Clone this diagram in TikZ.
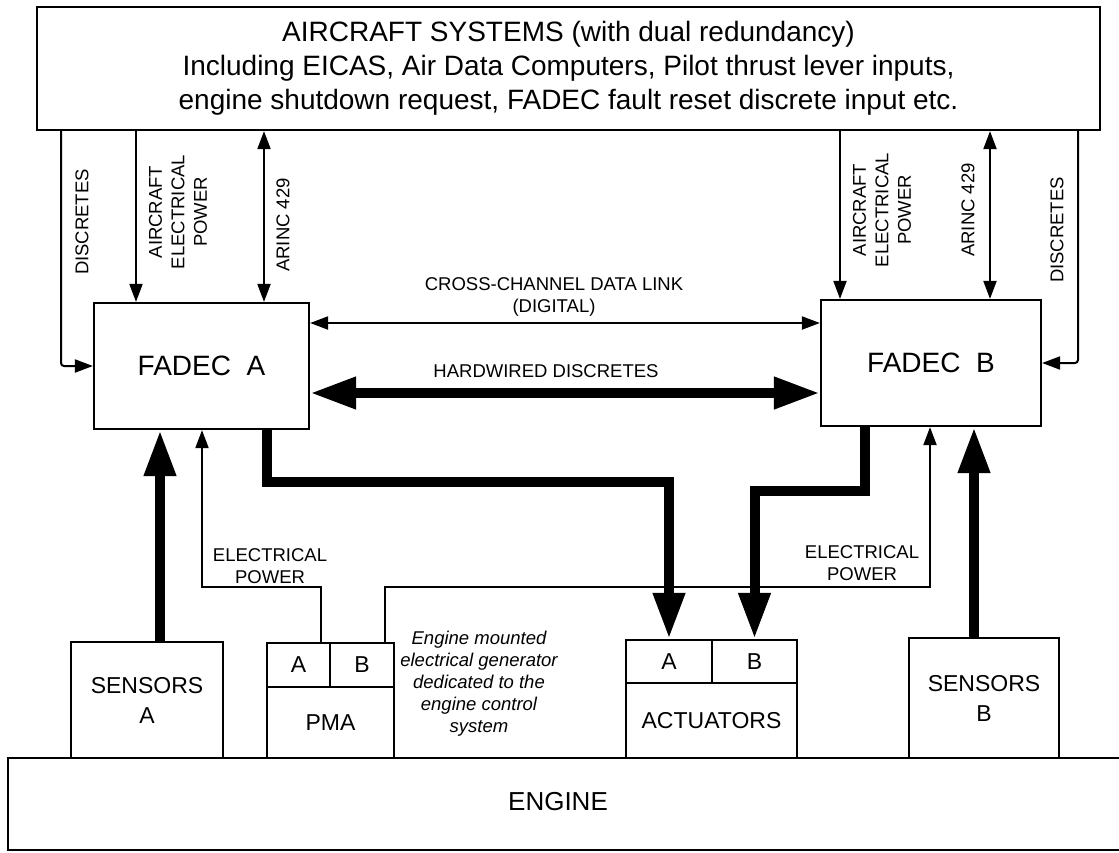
\documentclass[tikz,border=0pt]{standalone}
\usepackage{fontspec}
\setmainfont{Liberation Sans}
\usetikzlibrary{arrows.meta,calc}
\begin{document}
\begin{tikzpicture}[x=1pt,y=-1pt,
  box/.style={draw,line width=2.2pt,inner sep=0pt,align=center},
  thinln/.style={line width=2pt},
  tarrow/.style={thinln,-{Triangle[length=18pt,width=13pt]}},
  tdarrow/.style={thinln,{Triangle[length=18pt,width=13pt]}-{Triangle[length=18pt,width=13pt]}},
  bigarrow/.style={line width=10pt,-{Triangle[length=46pt,width=30pt]}},
  bigdarrow/.style={line width=10pt,{Triangle[length=46pt,width=30pt]}-{Triangle[length=46pt,width=30pt]}},
  lbl/.style={font=\fontsize{18.5}{22.5}\selectfont,align=center,inner sep=0pt},
  blbl/.style={font=\fontsize{23}{30}\selectfont},
]
\fill[white] (0,0) rectangle (1119,852);
\clip (0,0) rectangle (1119,852);

% boxes
\node[box,minimum width=1063pt,minimum height=123pt,font=\fontsize{28}{34}\selectfont] (sys) at (568.5,68.5)
  {AIRCRAFT SYSTEMS (with dual redundancy)\\Including EICAS, Air Data Computers, Pilot thrust lever inputs,\\engine shutdown request, FADEC fault reset discrete input etc.};
\node[box,minimum width=215pt,minimum height=126pt,font=\fontsize{28}{34}\selectfont] (fa) at (201.5,366) {FADEC\ \ A};
\node[box,minimum width=220pt,minimum height=126pt,font=\fontsize{28}{34}\selectfont] (fb) at (931,363) {FADEC\ \ B};
\node[box,blbl,minimum width=152pt,minimum height=116pt] (sa) at (147,700) {SENSORS\\A};
\node[box,blbl,minimum width=150pt,minimum height=120pt] (sb) at (984,698) {SENSORS\\B};
\node[box,blbl,minimum width=63pt,minimum height=44pt] (pmaA) at (298.5,665) {A};
\node[box,blbl,minimum width=64pt,minimum height=44pt] (pmaB) at (362,665) {B};
\node[box,blbl,minimum width=127pt,minimum height=71pt] (pma) at (330.5,722.5) {PMA};
\node[box,blbl,minimum width=86pt,minimum height=43pt] (actA) at (669,661.5) {A};
\node[box,blbl,minimum width=85pt,minimum height=43pt] (actB) at (754.5,661.5) {B};
\node[box,blbl,minimum width=171pt,minimum height=75pt] (act) at (711.5,720.5) {ACTUATORS};
\node[box,minimum width=1127pt,minimum height=92pt] (eng) at (571.5,804) {};
\node[font=\fontsize{26}{30}\selectfont,inner sep=0pt] (engtxt) at (558,802) {ENGINE};

% helper coordinates
\coordinate (xDa) at (61,0);
\coordinate (xPa) at (136,0);
\coordinate (xRa) at (264,0);
\coordinate (xPb) at (840,0);
\coordinate (xRb) at (990,0);
\coordinate (xDb) at (1078,0);
\coordinate (yC) at (0,323);
\coordinate (yH) at (0,393);
\coordinate (xSa) at (160,0);
\coordinate (xSb) at (974,0);
\coordinate (xTa) at (267,0);
\coordinate (yTa) at (0,482);
\coordinate (xTb) at (865,0);
\coordinate (yTb) at (0,491);
\coordinate (xPA) at (321,0);
\coordinate (xPB) at (385,0);
\coordinate (yE) at (0,587);
\coordinate (xEa) at (202,0);
\coordinate (xEb) at (930,0);

% aircraft system links
\draw[tarrow,rounded corners=3pt] (sys.south -| xDa) |- (fa.west);
\draw[tarrow] (sys.south -| xPa) -- (fa.north -| xPa);
\draw[tdarrow] (sys.south -| xRa) -- (fa.north -| xRa);
\draw[tarrow] (sys.south -| xPb) -- (fb.north -| xPb);
\draw[tdarrow] (sys.south -| xRb) -- (fb.north -| xRb);
\draw[tarrow,rounded corners=3pt] (sys.south -| xDb) |- (fb.east);

\node[lbl,rotate=90] (l1) at (82,222) {DISCRETES};
\node[lbl,rotate=90] (l2) at (178,212) {AIRCRAFT\\ELECTRICAL\\POWER};
\node[lbl,rotate=90] (l3) at (283,225) {ARINC 429};
\node[lbl,rotate=90] (l4) at (882,210) {AIRCRAFT\\ELECTRICAL\\POWER};
\node[lbl,rotate=90] (l5) at (968,210) {ARINC 429};
\node[lbl,rotate=90] (l6) at (1057,230) {DISCRETES};

% cross channel
\draw[tdarrow] (fa.east |- yC) -- (fb.west |- yC);
\node[lbl] (l7) at (554,297) {CROSS-CHANNEL DATA LINK\\(DIGITAL)};
\draw[bigdarrow] (fa.east |- yH) -- (fb.west |- yH);
\node[lbl] (l8) at (546,371) {HARDWIRED DISCRETES};

% sensors
\draw[bigarrow] (sa.north -| xSa) -- (fa.south -| xSa);
\draw[bigarrow] (sb.north -| xSb) -- (fb.south -| xSb);

% actuator commands
\draw[bigarrow] (fa.south -| xTa) -- (xTa |- yTa) -| (actA.north);
\draw[bigarrow] (fb.south -| xTb) -- (xTb |- yTb) -| (actB.north);

% PMA power
\draw[tarrow] (pmaA.north -| xPA) -- (xPA |- yE) -| (fa.south -| xEa);
\draw[tarrow] (pmaB.north -| xPB) -- (xPB |- yE) -| (fb.south -| xEb);
\node[lbl] (l9) at (270,566) {ELECTRICAL\\POWER};
\node[lbl] (l10) at (862,563) {ELECTRICAL\\POWER};

\node[lbl,font=\itshape\fontsize{18.5}{22}\selectfont] (note) at (479,684)
  {Engine mounted\\electrical generator\\dedicated to the\\engine control\\system};
\end{tikzpicture}
\end{document}
